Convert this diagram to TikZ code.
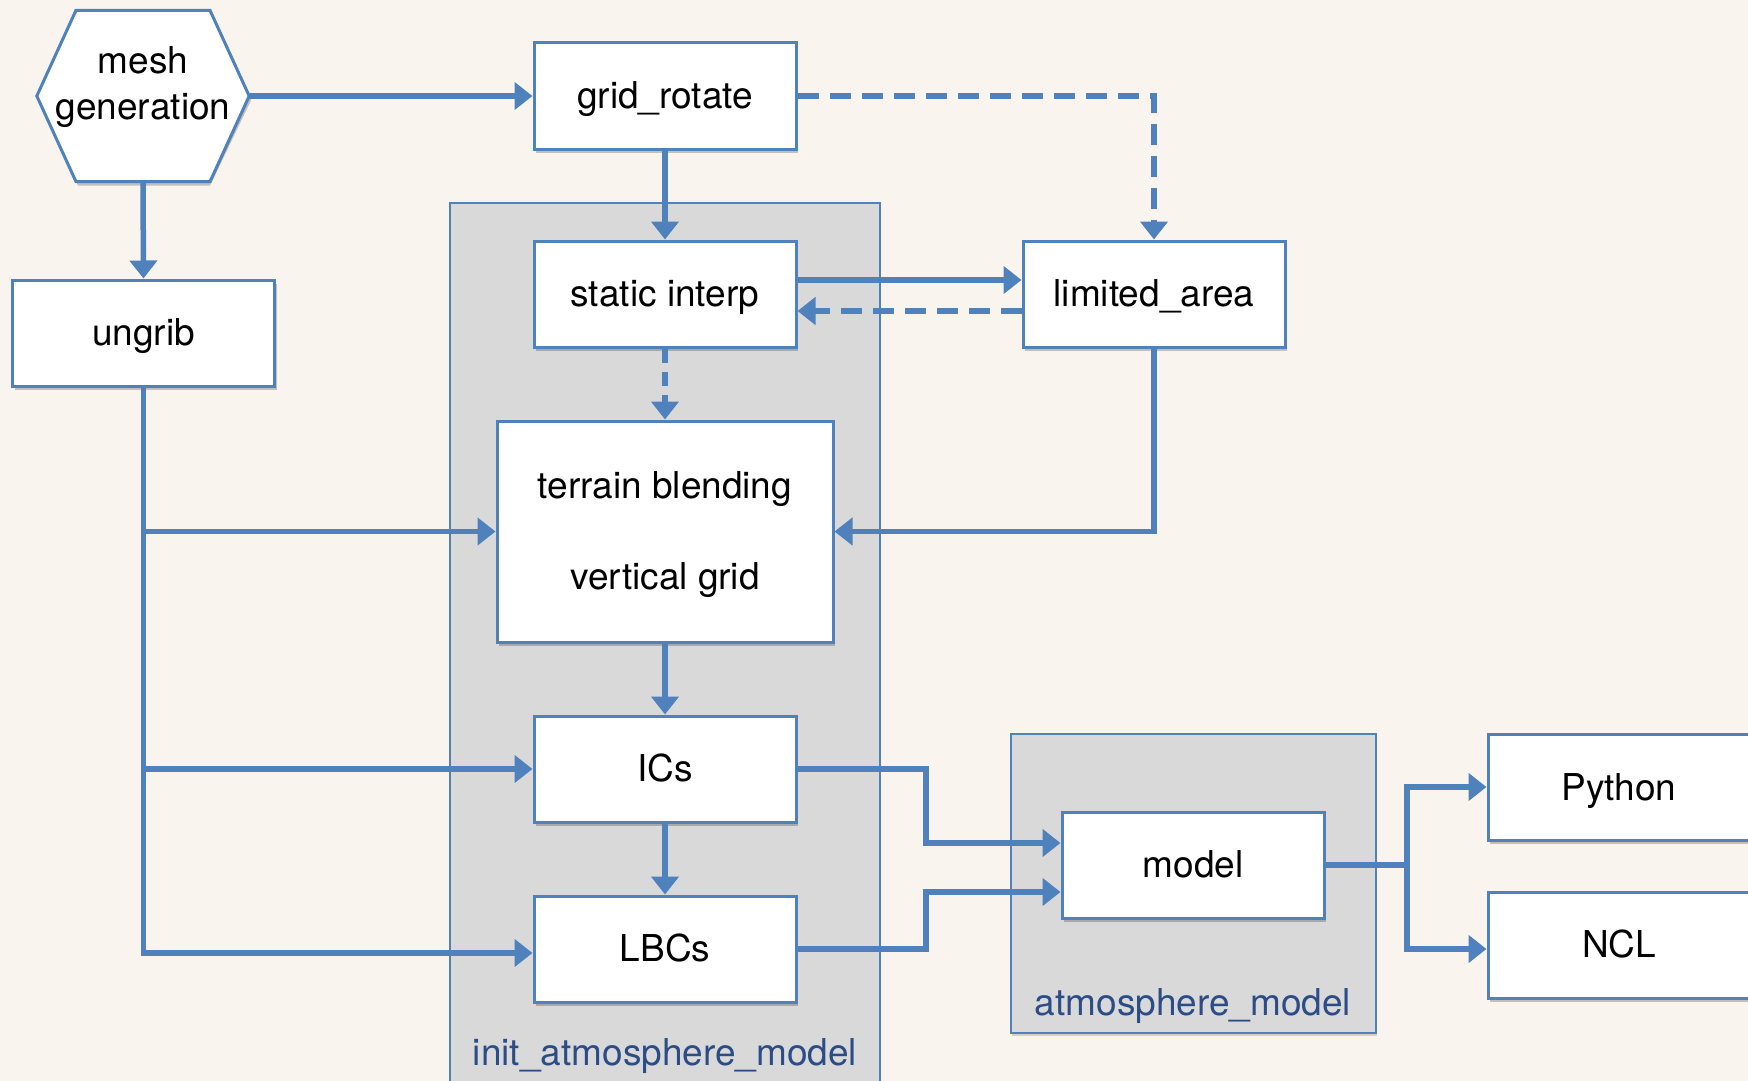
\documentclass[tikz,border=0pt]{standalone}
\usepackage{fontspec}
\setmainfont{TeX Gyre Heros}
\usetikzlibrary{arrows.meta,shadows}
\definecolor{paper}{HTML}{F9F5EE}
\definecolor{lineblue}{HTML}{4F81BD}
\definecolor{grpgray}{HTML}{D9D9D9}
\definecolor{grptext}{HTML}{2B4C86}
\tikzset{
  txt/.style={font=\fontsize{37}{46}\selectfont, text height=30pt, text depth=6pt},
  box/.style={txt, draw=lineblue, line width=3pt, fill=white, inner sep=0pt,
    minimum width=262pt, minimum height=106pt, align=center,
    drop shadow={shadow xshift=2pt, shadow yshift=-4pt, opacity=0.22, fill=black}},
  conn/.style={draw=lineblue, line width=5.5pt, line join=miter,
    -{Triangle[length=18pt,width=27pt]}},
  dconn/.style={conn, dash pattern=on 21pt off 11pt},
  grp/.style={draw=lineblue, line width=1.5pt, fill=grpgray},
  grplabel/.style={txt, text=grptext, inner sep=0pt}
}
\begin{document}
\begin{tikzpicture}[x=1pt,y=-1pt]
  \useasboundingbox (0,0) rectangle (1748,1081);
  \clip (0,0) rectangle (1748,1081);
  \fill[paper] (0,0) rectangle (1748,1081);

  % group frames
  \draw[grp] (450,203) rectangle (880,1100);
  \node[grplabel] (initlbl) at (665,1053) {init\_atmosphere\_model};
  \draw[grp, drop shadow={shadow xshift=1pt, shadow yshift=-3pt, opacity=0.15, fill=black}]
    (1011,734) rectangle (1376,1033);
  \node[grplabel] (atmlbl) at (1193,1003) {atmosphere\_model};

  % mesh generation hexagon
  \node[inner sep=0pt, minimum width=212pt, minimum height=171pt] (mesh) at (143,96) {};
  \fill[black, opacity=0.22] ([xshift=2pt,yshift=-4pt]mesh.west)
    -- ([xshift=-65pt,yshift=-4pt]mesh.north) -- ([xshift=67pt,yshift=-4pt]mesh.north)
    -- ([xshift=2pt,yshift=-4pt]mesh.east) -- ([xshift=67pt,yshift=-4pt]mesh.south)
    -- ([xshift=-65pt,yshift=-4pt]mesh.south) -- cycle;
  \draw[lineblue, line width=3pt, fill=white, line join=miter]
    (mesh.west) -- ([xshift=-67pt]mesh.north) -- ([xshift=67pt]mesh.north)
    -- (mesh.east) -- ([xshift=67pt]mesh.south) -- ([xshift=-67pt]mesh.south) -- cycle;
  \node[align=center, font=\fontsize{37}{46}\selectfont, inner sep=0pt] (meshtxt) at (143,87.5)
    {mesh\\generation};

  % process boxes
  \node[box] (grid) at (665,96) {grid\_rotate};
  \node[box] (static) at (665,294) {static interp};
  \node[box] (limited) at (1154,294) {limited\_area};
  \node[box, minimum width=336pt, minimum height=221pt] (terrain) at (665,531.5) {};
  \node[txt, anchor=base] (terrain1) at (665,498) {terrain blending};
  \node[txt, anchor=base] (terrain2) at (665,589) {vertical grid};
  \node[box] (ics) at (665,769) {ICs};
  \node[box] (lbcs) at (665,949) {LBCs};
  \node[box] (model) at (1193,865) {model};
  \node[box, minimum width=280pt] (python) at (1628,787) {};
  \node[txt] (pytxt) at (1619,788) {Python};
  \node[box, minimum width=280pt] (ncl) at (1628,945) {};
  \node[txt] (ncltxt) at (1619,945) {NCL};
  \node[box] (ungrib) at (143.5,333) {ungrib};

  % junction columns
  \coordinate (jmodel) at (926,0);
  \coordinate (jout) at (1407,0);

  % connectors
  \draw[conn] (mesh.east) -- (grid.west);
  \draw[conn] (mesh.south) -- (ungrib.north);
  \draw[conn] (grid.south) -- (static.north);
  \draw[dconn] (grid.east) -| (limited.north);
  \draw[conn] ([yshift=14pt]static.east) -- ([yshift=14pt]limited.west);
  \draw[dconn] ([yshift=-17pt]limited.west) -- ([yshift=-17pt]static.east);
  \draw[conn, dash pattern=on 14pt off 9pt] (static.south) -- (terrain.north);
  \draw[conn] (limited.south) |- (terrain.east);
  \draw[conn] (ungrib.south) |- (terrain.west);
  \draw[conn] (ungrib.south) |- (ics.west);
  \draw[conn] (ungrib.south) |- ([yshift=-4pt]lbcs.west);
  \draw[conn] (terrain.south) -- (ics.north);
  \draw[conn] (ics.south) -- (lbcs.north);
  \draw[conn] (ics.east) -- (ics.east -| jmodel) |- ([yshift=22pt]model.west);
  \draw[conn] (lbcs.east) -- (lbcs.east -| jmodel) |- ([yshift=-27pt]model.west);
  \draw[conn] (model.east) -- (model.east -| jout) |- (python.west);
  \draw[conn] (model.east -| jout) |- ([yshift=-4pt]ncl.west);
\end{tikzpicture}
\end{document}
